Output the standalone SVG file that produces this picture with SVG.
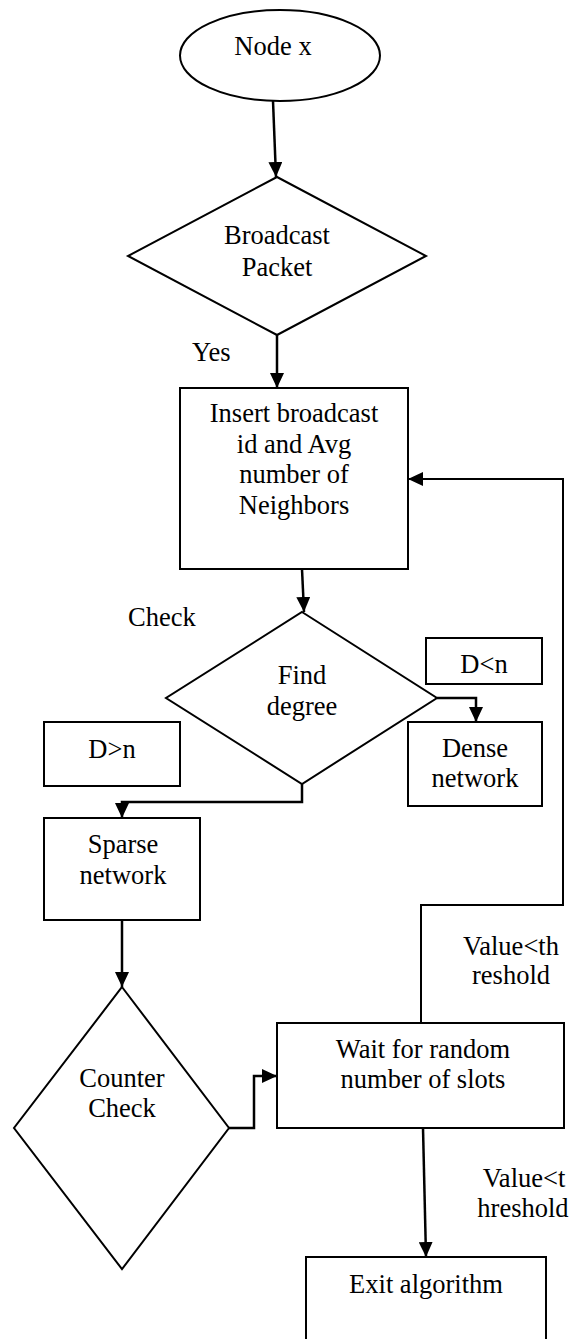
<svg xmlns="http://www.w3.org/2000/svg" width="580" height="1339" viewBox="0 0 580 1339">
  <style>
    .shape { fill: #ffffff; stroke: #000000; stroke-width: 2; }
    .lbl { font-family: "Liberation Serif", "Times New Roman", serif; font-size: 26.5px; fill: #000000; text-anchor: middle; }
    .free { font-family: "Liberation Serif", "Times New Roman", serif; font-size: 26.5px; fill: #000000; }
    .wire { fill: none; stroke: #000000; stroke-width: 2.5; }
    .wire-thin { fill: none; stroke: #000000; stroke-width: 2; }
  </style>
  <defs>
    <marker id="arrow" markerUnits="userSpaceOnUse" markerWidth="15" markerHeight="14" refX="15" refY="7" orient="auto">
      <path d="M0,0 L15,7 L0,14 z" fill="#000000"/>
    </marker>
  </defs>
  <rect width="580" height="1339" fill="#ffffff"/>

  <g id="connectors">
    <path class="wire" d="M273,101 L276,177" marker-end="url(#arrow)"/>
    <path class="wire" d="M277,335 L277,388" marker-end="url(#arrow)"/>
    <path class="wire" d="M302,569 L304,612" marker-end="url(#arrow)"/>
    <path class="wire" d="M437,698 L476,698 L476,722" marker-end="url(#arrow)"/>
    <path class="wire" d="M302,784 L302,802 L122,802 L122,818" marker-end="url(#arrow)"/>
    <path class="wire" d="M122,920 L122,987" marker-end="url(#arrow)"/>
    <path class="wire" d="M229,1128 L254,1128 L254,1076 L277,1076" marker-end="url(#arrow)"/>
    <path class="wire-thin" d="M421,1023 L421,905 L563,905 L563,479 L408,479" marker-end="url(#arrow)"/>
    <path class="wire" d="M423,1128 L426,1257" marker-end="url(#arrow)"/>
  </g>

  <g id="node-x">
    <ellipse class="shape" cx="280" cy="55.5" rx="100" ry="45.5"/>
    <text class="lbl" x="273" y="55">Node x</text>
  </g>

  <g id="broadcast-packet">
    <polygon class="shape" points="277,177 426,256 277,335 128,256"/>
    <text class="lbl" x="277" y="244">Broadcast</text>
    <text class="lbl" x="277" y="276">Packet</text>
  </g>

  <g id="label-yes">
    <text class="free" x="192" y="361">Yes</text>
  </g>

  <g id="insert-broadcast">
    <rect class="shape" x="180" y="388" width="228" height="181"/>
    <text class="lbl" x="294" y="422">Insert broadcast</text>
    <text class="lbl" x="294" y="453">id and Avg</text>
    <text class="lbl" x="294" y="483">number of</text>
    <text class="lbl" x="294" y="514">Neighbors</text>
  </g>

  <g id="label-check">
    <text class="free" x="128" y="626">Check</text>
  </g>

  <g id="find-degree">
    <polygon class="shape" points="302,612 437,698 302,784 166,698"/>
    <text class="lbl" x="302" y="684">Find</text>
    <text class="lbl" x="302" y="715">degree</text>
  </g>

  <g id="d-less-n">
    <rect class="shape" x="426" y="638" width="116" height="46"/>
    <text class="lbl" x="484" y="673">D&lt;n</text>
  </g>

  <g id="dense-network">
    <rect class="shape" x="408" y="722" width="134" height="84"/>
    <text class="lbl" x="475" y="757">Dense</text>
    <text class="lbl" x="475" y="787">network</text>
  </g>

  <g id="d-greater-n">
    <rect class="shape" x="44" y="722" width="136" height="64"/>
    <text class="lbl" x="112" y="758">D&gt;n</text>
  </g>

  <g id="sparse-network">
    <rect class="shape" x="44" y="818" width="156" height="102"/>
    <text class="lbl" x="123" y="853">Sparse</text>
    <text class="lbl" x="123" y="884">network</text>
  </g>

  <g id="counter-check">
    <polygon class="shape" points="122,987 229,1128 122,1269 14,1128"/>
    <text class="lbl" x="122" y="1087">Counter</text>
    <text class="lbl" x="122" y="1117">Check</text>
  </g>

  <g id="wait-slots">
    <rect class="shape" x="277" y="1023" width="287" height="105"/>
    <text class="lbl" x="423" y="1058">Wait for random</text>
    <text class="lbl" x="423" y="1088">number of slots</text>
  </g>

  <g id="label-retry">
    <text class="lbl" x="511" y="955">Value&lt;th</text>
    <text class="lbl" x="511" y="984">reshold</text>
  </g>

  <g id="label-exit">
    <text class="lbl" x="524" y="1187">Value&lt;t</text>
    <text class="lbl" x="523" y="1217">hreshold</text>
  </g>

  <g id="exit-algorithm">
    <rect class="shape" x="306" y="1257" width="240" height="100"/>
    <text class="lbl" x="426" y="1293">Exit algorithm</text>
  </g>
</svg>
